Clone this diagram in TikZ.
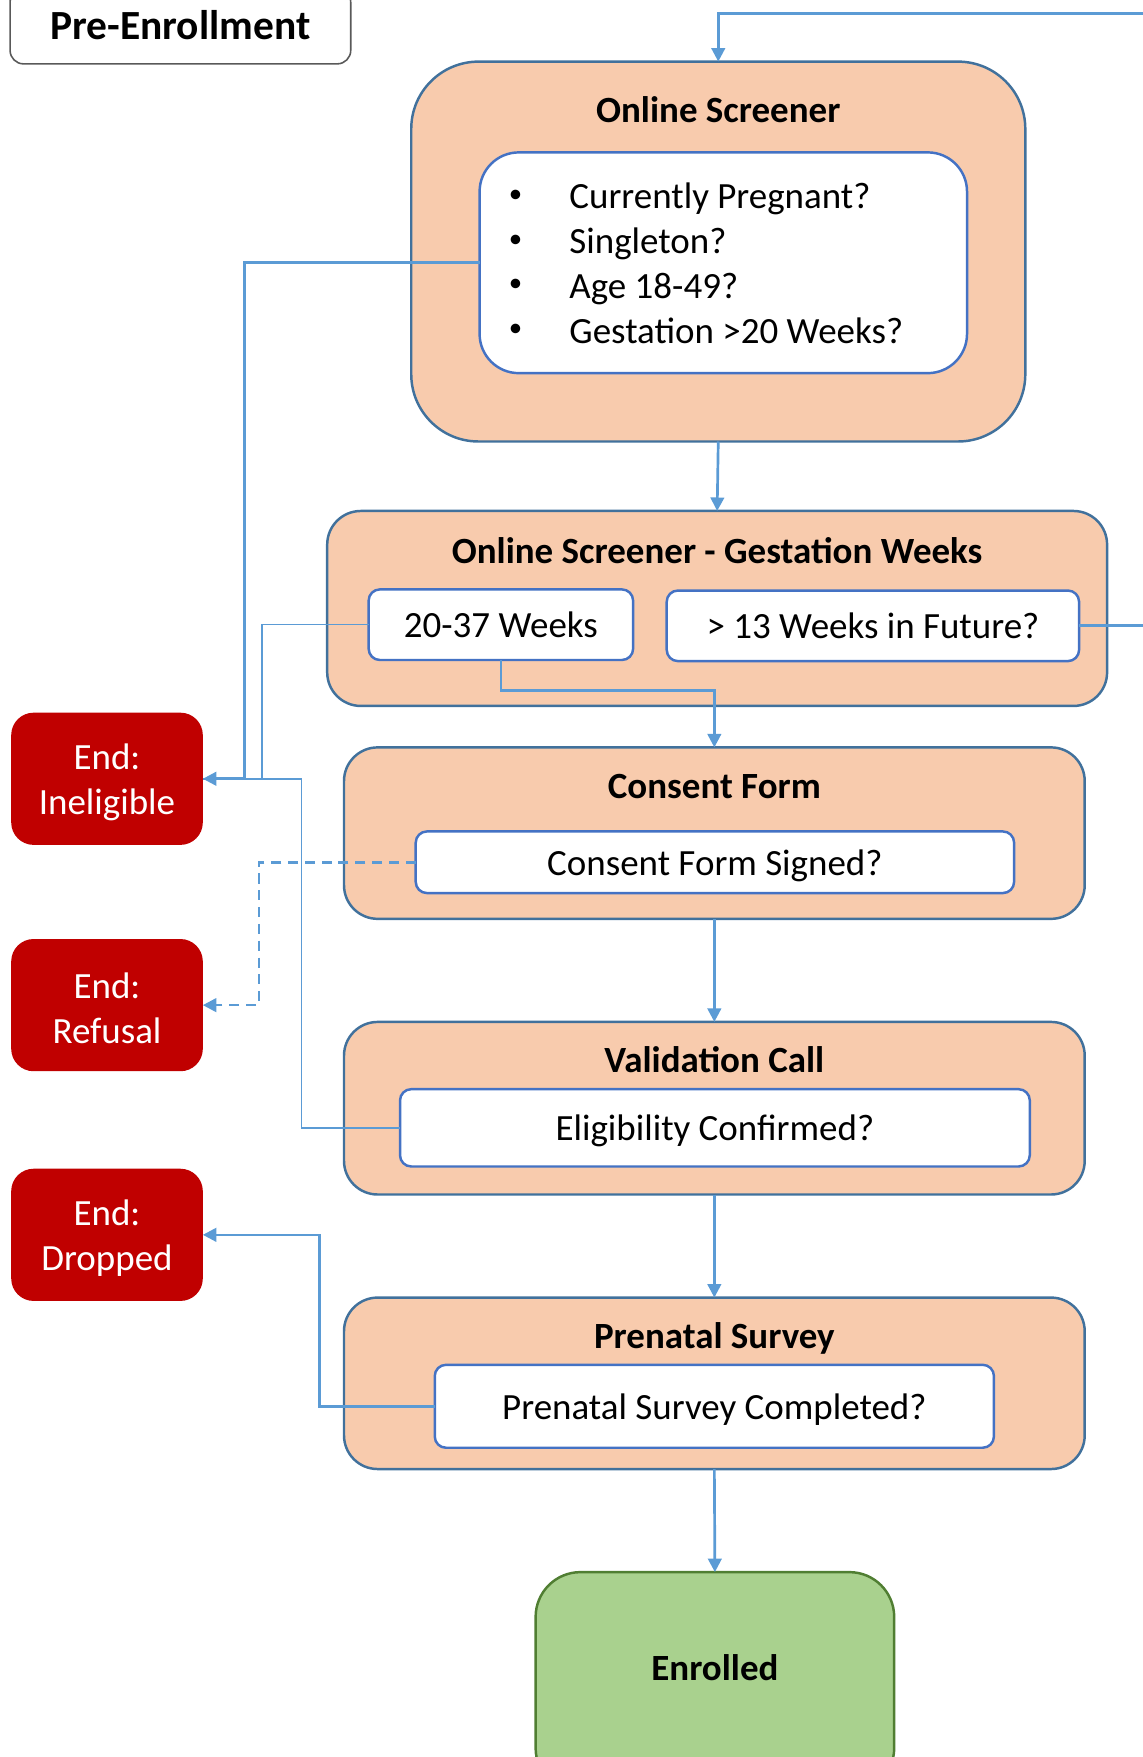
\documentclass[tikz,border=0pt]{standalone}
\usepackage{fontspec}
\setmainfont{Carlito}
\usetikzlibrary{arrows.meta}
\definecolor{peach}{HTML}{F8CBAD}
\definecolor{outerblue}{HTML}{41719C}
\definecolor{innerblue}{HTML}{4472C4}
\definecolor{linkblue}{HTML}{5B9BD5}
\definecolor{endred}{HTML}{C00000}
\definecolor{okgreen}{HTML}{A9D18E}
\definecolor{okgreenline}{HTML}{507E32}
\definecolor{graybox}{HTML}{595959}
\begin{document}
\begin{tikzpicture}[x=1pt,y=-1pt,
  base/.style={rectangle, inner sep=0pt, outer sep=0pt},
  fixtext/.style={text height=23pt, text depth=0pt},
  outerbox/.style={base, draw=outerblue, fill=peach, line width=2.2pt},
  innerbox/.style={base, fixtext, draw=innerblue, fill=white, line width=2.2pt, font=\fontsize{33}{40}\selectfont},
  endbox/.style={base, fill=endred, rounded corners=20pt, minimum width=171pt, minimum height=118pt},
  endtext/.style={align=center, text=white, inner sep=0pt, font=\fontsize{33}{40}\selectfont},
  title/.style={fixtext, font=\bfseries\fontsize{33}{40}\selectfont, inner sep=0pt},
  item/.style={fixtext, font=\fontsize{33}{40}\selectfont, inner sep=0pt, anchor=west},
  bullet/.style={font=\fontsize{24}{30}\selectfont, inner sep=0pt},
  conn/.style={draw=linkblue, line width=2.4pt, -{Triangle[length=12pt,width=12pt]}},
  plain/.style={draw=linkblue, line width=2.4pt},
  thinconn/.style={draw=linkblue, line width=1.4pt}
]
\useasboundingbox (0,0) rectangle (1020,1568);

% Pre-Enrollment label
\node[base, draw=graybox, fill=white, line width=1.4pt, rounded corners=12pt, minimum width=304pt, minimum height=67pt] (pre) at (161,23.5) {};
\node[title, text height=24pt, font=\bfseries\fontsize{37}{44}\selectfont] (pretext) at (161,23) {Pre-Enrollment};

% Online Screener
\node[outerbox, rounded corners=60pt, minimum width=548pt, minimum height=339pt] (os) at (641,224.5) {};
\node[title] (ostitle) at (641,98) {Online Screener};
\node[innerbox, rounded corners=35pt, minimum width=435pt, minimum height=197pt] (osin) at (645.5,234.5) {};
\node[bullet] (b1) at (460,175) {•};
\node[bullet] (b2) at (460,215) {•};
\node[bullet] (b3) at (460,255) {•};
\node[bullet] (b4) at (460,295) {•};
\node[item] (t1) at (508,175) {Currently Pregnant?};
\node[item] (t2) at (508,215) {Singleton?};
\node[item] (t3) at (508,255) {Age 18-49?};
\node[item] (t4) at (508,295) {Gestation >20 Weeks?};

% Gestation weeks
\node[outerbox, rounded corners=30pt, minimum width=696pt, minimum height=174pt] (gw) at (640,543) {};
\node[title] (gwtitle) at (640,491) {Online Screener - Gestation Weeks};
\node[innerbox, rounded corners=10pt, minimum width=236pt, minimum height=63pt] (w1) at (447,557.5) {20-37 Weeks};
\node[innerbox, rounded corners=10pt, minimum width=368pt, minimum height=63pt] (w2) at (779,558.5) {> 13 Weeks in Future?};

% Consent form
\node[outerbox, rounded corners=30pt, minimum width=661pt, minimum height=153pt] (cf) at (637.5,743.5) {};
\node[title] (cftitle) at (637.5,701) {Consent Form};
\node[innerbox, rounded corners=10pt, minimum width=534pt, minimum height=55pt] (cfin) at (638,769.5) {Consent Form Signed?};

% Validation call
\node[outerbox, rounded corners=30pt, minimum width=661pt, minimum height=154pt] (vc) at (637.5,989) {};
\node[title] (vctitle) at (637.5,946) {Validation Call};
\node[innerbox, rounded corners=10pt, minimum width=562pt, minimum height=69pt] (vcin) at (638,1006.5) {Eligibility Confirmed?};

% Prenatal survey
\node[outerbox, rounded corners=30pt, minimum width=661pt, minimum height=153pt] (ps) at (637.5,1234.5) {};
\node[title] (pstitle) at (637.5,1192) {Prenatal Survey};
\node[innerbox, rounded corners=10pt, minimum width=499pt, minimum height=74pt] (psin) at (637.5,1255) {Prenatal Survey Completed?};

% Enrolled
\node[base, draw=okgreenline, fill=okgreen, line width=2.2pt, rounded corners=40pt, minimum width=320pt, minimum height=197pt] (en) at (638,1501.5) {};
\node[title] (entext) at (638,1488) {Enrolled};

% End boxes
\node[endbox] (inel) at (95.5,695) {};
\node[endtext] (ineltext) at (95.5,698) {End:\\Ineligible};
\node[endbox] (ref) at (95.5,897) {};
\node[endtext] (reftext) at (95.5,900) {End:\\Refusal};
\node[endbox] (drop) at (95.5,1102) {};
\node[endtext] (droptext) at (95.5,1105) {End:\\Dropped};

% Free ends at picture edge
\coordinate (topin) at (1020,12);
\coordinate (rightout) at (1020,558.5);

% Main flow
\draw[conn] (topin) -| (os.north);
\draw[conn] (os.south) -- (gw.north);
\draw[plain] (w2.east) -- (rightout);
\draw[conn] (w1.south) -- ++(0,27) -| (cf.north);
\draw[conn] (cf.south) -- (vc.north);
\draw[conn] (vc.south) -- (ps.north);
\draw[conn] (ps.south) -- (en.north);

% Exits
\draw[thinconn] (w1.west) -- (234,557.5) |- (inel.east);
\draw[thinconn] (vcin.west) -- (269,1006.5) |- (inel.east);
\draw[conn] (osin.west) -- (218,234.5) |- (inel.east);
\draw[conn, dash pattern=on 9pt off 6pt] (cfin.west) -- (231,769.5) |- (ref.east);
\draw[conn] (psin.west) -- (285,1255) |- (drop.east);
\end{tikzpicture}
\end{document}
